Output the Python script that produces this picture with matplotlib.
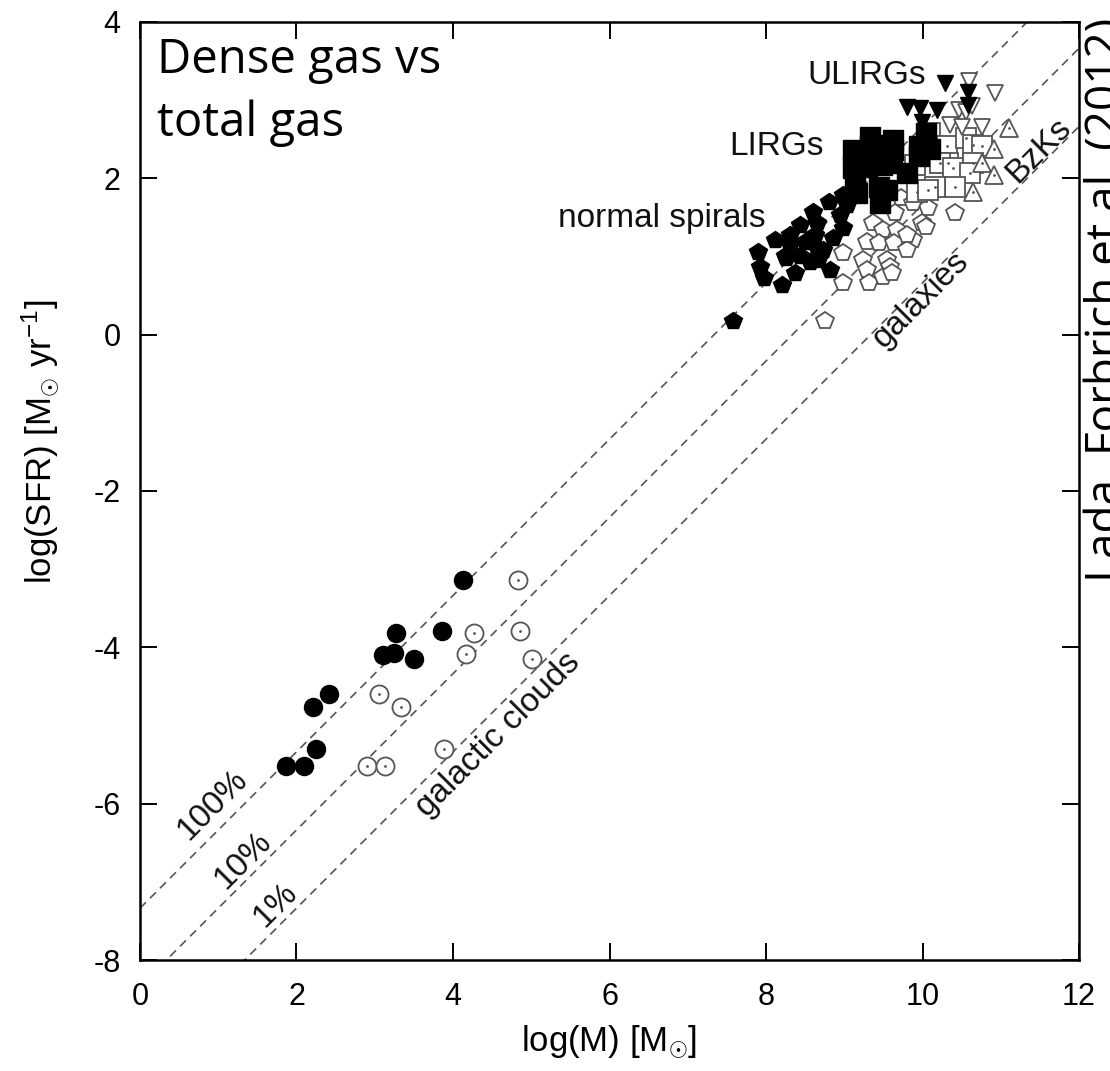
import numpy as np
import matplotlib
matplotlib.use('Agg')
import matplotlib.pyplot as plt

plt.rcParams['font.family'] = ['Liberation Sans', 'DejaVu Sans']
plt.rcParams['mathtext.fontset'] = 'custom'
plt.rcParams['mathtext.rm'] = 'Liberation Sans'
plt.rcParams['mathtext.it'] = 'Liberation Sans:italic'
plt.rcParams['axes.unicode_minus'] = False

# galactic clouds (dense gas = filled, total gas = open)
clouds_dense_x = [1.87, 2.09, 2.25, 2.21, 2.41, 3.10, 3.24, 3.50, 3.27, 3.86, 4.13]
clouds_dense_y = [-5.52, -5.52, -5.30, -4.76, -4.60, -4.10, -4.07, -4.15, -3.82, -3.79, -3.14]
clouds_total_x = [2.90, 3.13, 3.89, 3.34, 3.06, 4.17, 5.01, 4.27, 4.86, 4.83]
clouds_total_y = [-5.52, -5.52, -5.30, -4.76, -4.60, -4.09, -4.15, -3.82, -3.79, -3.14]

# normal spirals
spirals_dense_x = [8.80, 8.99, 9.03, 8.60, 8.95, 8.65, 8.43, 8.31, 8.63, 8.99, 8.86, 8.31, 8.50,
                   8.65, 8.73, 8.24, 8.43, 8.56, 8.67, 7.90, 7.92, 7.97, 8.20, 8.37, 8.26, 7.58,
                   8.11, 8.82]
spirals_dense_y = [1.70, 1.79, 1.66, 1.57, 1.53, 1.43, 1.40, 1.28, 1.28, 1.36, 1.23, 1.15, 1.19,
                   1.11, 1.08, 1.00, 1.00, 0.93, 0.96, 1.06, 0.87, 0.72, 0.64, 0.79, 0.98, 0.17,
                   1.21, 0.83]
spirals_total_x = [9.73, 9.65, 9.37, 9.50, 9.67, 10.07, 10.42, 9.99, 9.88, 9.29, 9.44, 9.63, 9.80,
                   8.99, 9.24, 9.54, 9.29, 9.58, 8.99, 9.31, 9.50, 9.61, 8.75, 9.80, 10.05, 9.88]
spirals_total_y = [1.75, 1.55, 1.43, 1.34, 1.34, 1.62, 1.55, 1.43, 1.21, 1.19, 1.17, 1.17, 1.08,
                   1.04, 0.96, 0.96, 0.83, 0.87, 0.66, 0.66, 0.74, 0.79, 0.17, 1.28, 1.38, 1.68]

# LIRGs
lirgs_dense_x = [9.11, 9.11, 9.33, 9.33, 9.29, 9.46, 9.48, 9.44, 9.62, 9.62, 9.61, 9.54, 9.80,
                 9.95, 9.95, 10.05, 10.10, 9.16, 9.14, 9.46]
lirgs_dense_y = [2.36, 2.13, 2.53, 2.41, 2.15, 2.43, 2.17, 1.89, 2.49, 2.36, 2.19, 1.85, 2.07,
                 2.41, 2.28, 2.58, 2.38, 1.81, 1.94, 1.68]
lirgs_total_x = [10.10, 10.14, 10.31, 10.33, 10.22, 10.39, 10.56, 10.65, 10.76, 10.65, 10.61,
                 10.42, 10.16, 9.93, 9.90, 10.07]
lirgs_total_y = [2.58, 2.41, 2.41, 2.19, 2.19, 2.13, 2.51, 2.43, 2.41, 2.19, 2.07, 1.89, 1.89,
                 1.83, 2.17, 1.85]

# ULIRGs
ulirgs_dense_x = [10.29, 10.58, 9.80, 9.97, 10.19, 10.58, 9.99]
ulirgs_dense_y = [3.22, 3.10, 2.91, 2.90, 2.87, 2.94, 2.72]
ulirgs_total_x = [10.59, 10.93, 10.46, 10.55, 10.35, 10.50, 10.63, 10.76]
ulirgs_total_y = [3.24, 3.09, 2.87, 2.85, 2.68, 2.65, 2.92, 2.66]

# BzKs
bzk_x = [11.10, 10.91, 10.91, 10.64, 10.76]
bzk_y = [2.64, 2.38, 2.04, 1.83, 2.19]

# dense gas fractions: log SFR = log M + log(4.6e-8) + log f
fractions = [1.0, 0.1, 0.01]
frac_labels = ['100%', '10%', '1%']

fig = plt.figure(figsize=(11.1, 10.71), dpi=100)
ax = fig.add_axes([0.1261, 0.1036, 0.8460, 0.8759])

xx = np.array([0, 12])
for f in fractions:
    ax.plot(xx, xx + np.log10(4.6e-8 * f), ls=(0, (5, 3.5)), color='#555555', lw=1.2, zorder=1)

gray = '#555555'
ax.plot(clouds_dense_x, clouds_dense_y, 'o', ms=13, color='black', mec='black', zorder=3)
ax.plot(clouds_total_x, clouds_total_y, 'o', ms=13, mfc='white', mec=gray, mew=1.3, zorder=3)
ax.plot(clouds_total_x, clouds_total_y, '.', ms=2, color=gray, zorder=4)

ax.plot(spirals_total_x, spirals_total_y, 'p', ms=13, mfc='white', mec=gray, mew=1.3, zorder=2)
ax.plot(spirals_dense_x, spirals_dense_y, 'p', ms=13, color='black', zorder=3)

ax.plot(lirgs_total_x, lirgs_total_y, 's', ms=14, mfc='white', mec=gray, mew=1.3, zorder=2)
ax.plot(lirgs_total_x, lirgs_total_y, '.', ms=2, color=gray, zorder=2)
ax.plot(lirgs_dense_x, lirgs_dense_y, 's', ms=14, color='black', zorder=3)

ax.plot(ulirgs_total_x, ulirgs_total_y, 'v', ms=12, mfc='white', mec=gray, mew=1.3, zorder=2)
ax.plot(ulirgs_dense_x, ulirgs_dense_y, 'v', ms=12, color='black', zorder=3)

ax.plot(bzk_x, bzk_y, '^', ms=13, mfc='white', mec=gray, mew=1.3, zorder=2)
ax.plot(bzk_x, bzk_y, '.', ms=2, color=gray, zorder=2)

# labels on the plot
lab = dict(fontsize=24, color='#111111')
ax.text(9.29, 3.31, 'ULIRGs', ha='center', va='center', **lab)
ax.text(8.14, 2.41, 'LIRGs', ha='center', va='center', **lab)
ax.text(6.67, 1.49, 'normal spirals', ha='center', va='center', **lab)
ax.text(11.48, 2.36, 'BzKs', ha='center', va='center', rotation=45, **lab)
ax.text(9.98, 0.45, 'galaxies', ha='center', va='center', rotation=45, **lab)
ax.text(4.58, -5.12, 'galactic clouds', ha='center', va='center', rotation=45, **lab)
for lx, ly, t in zip([0.93, 1.32, 1.73], [-6.01, -6.72, -7.29], frac_labels):
    ax.text(lx, ly, t, ha='center', va='center', rotation=45, **lab)

ax.set_xlim(0, 12)
ax.set_ylim(-8, 4)
ax.set_xticks([0, 2, 4, 6, 8, 10, 12])
ax.set_yticks([-8, -6, -4, -2, 0, 2, 4])
ax.tick_params(direction='in', length=12, width=1.4, top=True, right=True, labelsize=22)
ax.tick_params(axis='x', pad=16)
ax.tick_params(axis='y', pad=14)
for s in ax.spines.values():
    s.set_linewidth(1.8)

fig.text(609 / 1110, 1 - 1042 / 1071, r'log(M) [M$_{\odot}$]', fontsize=25, ha='center', va='center')
fig.text(40 / 1110, 1 - 442 / 1071, r'log(SFR) [M$_{\odot}$ yr$^{-1}$]', fontsize=25,
         rotation=90, ha='center', va='center')

# overlay annotations
ax.text(0.018, 0.985, 'Dense gas vs\ntotal gas', transform=ax.transAxes, ha='left', va='top',
        fontsize=34, family='Open Sans', linespacing=1.43)
fig.text(1084 / 1110, 1 - 582 / 1071, 'Lada, Forbrich et al. (2012)', rotation=90,
         ha='left', va='bottom', fontsize=33, family='Open Sans')

fig.savefig('out.png', dpi=100)
